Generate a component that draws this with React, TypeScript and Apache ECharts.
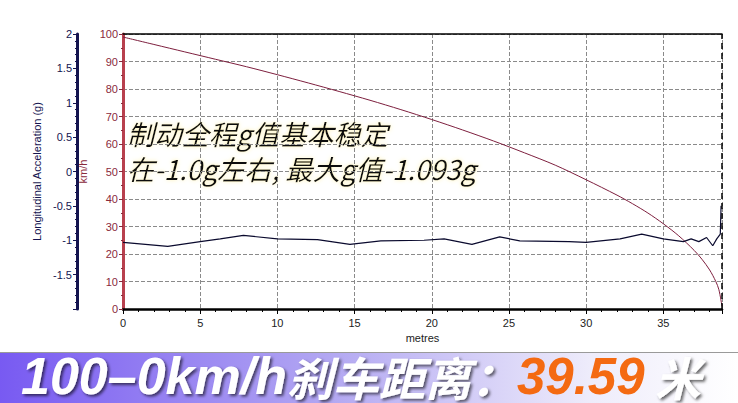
import React, { useEffect, useRef } from "react";
import * as echarts from "echarts";

// distance (m) for speed curve
const speedDist = [0, 2, 4, 6, 8, 10, 12, 14, 16, 18, 20, 22, 24, 26, 28, 30, 32, 33, 34, 35, 36, 37, 37.5, 38, 38.4, 38.6, 38.8];
// speed (km/h)
const speedVals = [98.9, 96.2, 93.5, 90.8, 88.1, 85.2, 82.2, 79.1, 75.9, 72.5, 68.9, 65.1, 61.1, 56.8, 52.3, 47.0, 41.4, 38.3, 34.9, 31.0, 26.6, 21.3, 18.1, 14.2, 10.0, 7.0, 1.0];

// distance (m) for acceleration curve
const accDist = [0, 2.9, 5.0, 6.3, 7.8, 10.0, 12.6, 14.7, 16.7, 19.5, 20.8, 22.6, 24.4, 25.7, 28.9, 30.0, 32.2, 33.6, 35.0, 36.3, 36.8, 37.3, 37.8, 38.2, 38.46, 38.69, 38.74];
// longitudinal acceleration (g)
const accVals = [-1.03, -1.09, -1.02, -0.98, -0.93, -0.98, -0.99, -1.06, -1.01, -1.0, -0.98, -1.06, -0.95, -1.01, -1.02, -1.03, -0.98, -0.91, -0.98, -1.02, -0.98, -1.02, -0.96, -1.08, -0.98, -0.91, -0.5];

const X_MAX = 38.8;
const noteLines = ["制动全程g值基本稳定", "在-1.0g左右, 最大g值-1.093g"];
const bannerLead = "100–0km/h";
const bannerCjk = "刹车距离：";
const bannerValue = "39.59";
const bannerUnit = " 米";

const NAVY = "#14144f";
const MAROON = "#8a2a3c";

export default function App() {
  const ref = useRef<HTMLDivElement>(null);
  useEffect(() => {
    if (!ref.current) return;
    const chart = echarts.init(ref.current, null, { renderer: "svg" });
    const speedData = speedDist.map((d, i) => [d, speedVals[i]]);
    const accData = accDist.map((d, i) => [d, accVals[i]]);
    const shadow = {
      textShadowColor: "rgba(0,0,0,0.6)",
      textShadowBlur: 3,
      textShadowOffsetX: 2,
      textShadowOffsetY: 2,
    };
    chart.setOption({
      animation: false,
      backgroundColor: "#ffffff",
      textStyle: { fontFamily: "Liberation Sans, Arial, sans-serif" },
      grid: { left: 123, right: 16, top: 34, bottom: 94 },
      xAxis: [
        {
          type: "value",
          min: 0,
          max: X_MAX,
          interval: 5,
          name: "metres",
          nameLocation: "middle",
          nameGap: 23,
          nameTextStyle: { color: "#222", fontSize: 11 },
          axisLine: { onZero: false, lineStyle: { color: "#000", width: 2.5 } },
          axisTick: { length: 5, lineStyle: { color: "#000" } },
          minorTick: { show: true, splitNumber: 5, length: 3, lineStyle: { color: "#000" } },
          axisLabel: { color: "#222", fontSize: 11, margin: 8, showMaxLabel: false },
          splitLine: { show: true, lineStyle: { color: "#8a8a8a", type: "dashed", width: 1 } },
        },
        {
          type: "value",
          position: "top",
          min: 0,
          max: X_MAX,
          interval: 5,
          axisLine: { show: true, onZero: false, lineStyle: { color: "#000", width: 1.5 } },
          axisTick: { show: false },
          axisLabel: { show: false },
          splitLine: { show: false },
        },
      ],
      yAxis: [
        {
          type: "value",
          position: "left",
          min: 0,
          max: 100,
          interval: 10,
          name: "km/h",
          nameLocation: "middle",
          nameGap: 21,
          nameTextStyle: { color: MAROON, fontSize: 11 },
          axisLine: { show: true, onZero: false, lineStyle: { color: "#b8404e", width: 3 } },
          axisTick: { show: true, length: 4, lineStyle: { color: MAROON } },
          minorTick: { show: true, splitNumber: 2, length: 2, lineStyle: { color: MAROON } },
          axisLabel: { color: MAROON, fontSize: 11, margin: 5 },
          splitLine: { show: true, lineStyle: { color: "#8a8a8a", type: "dashed", width: 1 } },
        },
        {
          type: "value",
          position: "left",
          offset: 46,
          min: -2,
          max: 2,
          interval: 0.5,
          name: "Longitudinal Acceleration (g)",
          nameLocation: "middle",
          nameGap: 26,
          nameTextStyle: { color: NAVY, fontSize: 11 },
          axisLine: { show: true, onZero: false, lineStyle: { color: NAVY, width: 3 } },
          axisTick: { show: true, length: 4, lineStyle: { color: NAVY } },
          minorTick: { show: true, splitNumber: 5, length: 2, lineStyle: { color: NAVY } },
          axisLabel: { color: NAVY, fontSize: 11, margin: 5, showMinLabel: false },
          splitLine: { show: false },
        },
      ],
      series: [
        {
          type: "line",
          xAxisIndex: 0,
          yAxisIndex: 0,
          data: speedData,
          showSymbol: false,
          smooth: 0.3,
          lineStyle: { color: "#7d1f3e", width: 1 },
          markLine: {
            silent: true,
            symbol: "none",
            label: { show: false },
            lineStyle: { color: "#000", type: [6, 4], width: 1.5 },
            data: [{ xAxis: X_MAX }],
          },
        },
        {
          type: "line",
          xAxisIndex: 0,
          yAxisIndex: 1,
          data: accData,
          showSymbol: false,
          lineStyle: { color: "#0a0a2e", width: 1.2 },
        },
      ],
      graphic: [
        {
          type: "text",
          left: 127,
          top: 115,
          style: {
            text: noteLines.join("\n"),
            font: "italic 27.3px 'Noto Sans CJK SC'",
            lineHeight: 35,
            fill: "#111",
            textShadowColor: "rgba(255,242,170,0.9)",
            textShadowBlur: 4,
          },
        },
        {
          type: "rect",
          shape: { x: 0, y: 353, width: 738, height: 50 },
          style: {
            fill: new echarts.graphic.LinearGradient(0, 0, 1, 0, [
              { offset: 0, color: "#785af2" },
              { offset: 0.45, color: "#b3a8f2" },
              { offset: 0.8, color: "#eeecfb" },
              { offset: 1, color: "#ffffff" },
            ]),
          },
        },
        {
          type: "line",
          shape: { x1: 0, y1: 352.5, x2: 738, y2: 352.5 },
          style: { stroke: "#9a9a9a", lineWidth: 1 },
        },
        {
          type: "text",
          x: 21,
          y: 376,
          style: {
            text:
              "{w|" + bannerLead + "}{c|" + bannerCjk + "}{o|" + bannerValue + "}{c|" + bannerUnit + "}",
            verticalAlign: "middle",
            rich: {
              w: {
                font: "italic bold 52px 'Liberation Sans'",
                fill: "#ffffff",
                lineHeight: 44,
                ...shadow,
              },
              c: {
                font: "italic bold 46px 'Noto Sans CJK SC'",
                fill: "#ffffff",
                lineHeight: 44,
                ...shadow,
              },
              o: {
                font: "italic bold 51px 'Liberation Sans'",
                fill: "#f46a12",
                lineHeight: 44,
              },
            },
          },
        },
      ],
    });
    return () => chart.dispose();
  }, []);
  return <div ref={ref} style={{ width: 738, height: 403, position: "absolute", left: 0, top: 0 }} />;
}
